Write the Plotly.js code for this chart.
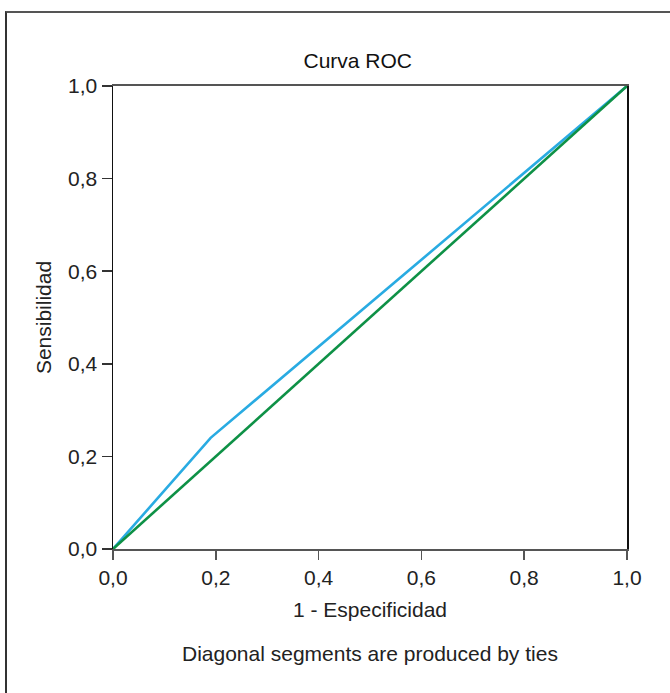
<!DOCTYPE html>
<html>
<head>
<meta charset="utf-8">
<script src="https://cdn.plot.ly/plotly-3.0.1.min.js"></script>
<style>
  html, body { margin: 0; padding: 0; background: #fff; }
  #wrap { position: relative; width: 670px; height: 693px; overflow: hidden; }
  #frame { position: absolute; left: 5px; top: 11px; width: 800px; height: 800px;
           border-left: 2px solid #333; border-top: 2px solid #555; pointer-events: none; }
  #chart { position: absolute; left: 0; top: 0; width: 670px; height: 693px; }
</style>
</head>
<body>
<div id="wrap">
  <div id="chart"></div>
  <div id="frame"></div>
</div>
<script>
const rocX = [0, 0.19, 1];
const rocY = [0, 0.24, 1];
const refX = [0, 1];
const refY = [0, 1];
const tickVals = [0, 0.2, 0.4, 0.6, 0.8, 1.0];
const tickText = ['0,0', '0,2', '0,4', '0,6', '0,8', '1,0'];

const FS = 21;
const font = { family: 'Liberation Sans, Arial, sans-serif', color: '#222', size: FS };

const traces = [
  { x: rocX, y: rocY, mode: 'lines', line: { color: '#29ABE2', width: 2.6 }, hoverinfo: 'skip' },
  { x: refX, y: refY, mode: 'lines', line: { color: '#0E9146', width: 2.6 }, hoverinfo: 'skip' }
];

const layout = {
  width: 670, height: 693,
  margin: { l: 113, r: 43, t: 86, b: 144 },
  paper_bgcolor: '#fff', plot_bgcolor: '#fff',
  showlegend: false,
  font: font,
  title: { text: 'Curva ROC', font: { family: font.family, size: FS, color: '#111' },
           x: 0.534, xanchor: 'center', y: 0.913, yanchor: 'middle' },
  xaxis: {
    range: [0, 1], tickvals: tickVals, ticktext: tickText,
    showgrid: false, zeroline: false,
    showline: true, linecolor: '#555', linewidth: 2, mirror: true,
    ticks: 'outside', ticklen: 9, tickcolor: '#555', tickwidth: 1.5,
    tickfont: { size: FS, color: '#222' },
    title: { text: '1 - Especificidad', font: { size: FS, color: '#222' }, standoff: 14 }
  },
  yaxis: {
    range: [0, 1], tickvals: tickVals, ticktext: tickText,
    showgrid: false, zeroline: false,
    showline: true, linecolor: '#111', linewidth: 1.5, mirror: true,
    ticks: 'outside', ticklen: 10, tickcolor: '#333', tickwidth: 1.5,
    tickfont: { size: FS, color: '#222' },
    title: { text: 'Sensibilidad', font: { size: FS, color: '#222' }, standoff: 10 }
  },
  annotations: [{
    text: 'Diagonal segments are produced by ties', showarrow: false,
    xref: 'paper', yref: 'paper', x: 0.5, y: -0.226, xanchor: 'center', yanchor: 'middle',
    font: { size: FS, color: '#222' }
  }]
};

Plotly.newPlot('chart', traces, layout, { displayModeBar: false, staticPlot: true });
</script>
</body>
</html>
